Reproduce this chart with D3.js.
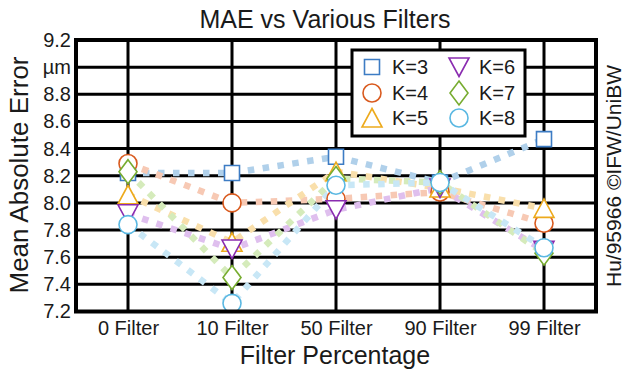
<!DOCTYPE html>
<html>
<head>
<meta charset="utf-8">
<script src="https://cdn.jsdelivr.net/npm/d3@7"></script>
<style>
  html, body { margin: 0; padding: 0; background: #fff; }
  svg { display: block; font-family: "Liberation Sans", Arial, sans-serif; }
</style>
</head>
<body>
<svg id="chart" width="625" height="372"></svg>
<script>
// Filter settings along the x axis
const categories = ["0 Filter", "10 Filter", "50 Filter", "90 Filter", "99 Filter"];

// Mean absolute error (µm) for each neighbourhood size K
const k3 = [8.22, 8.22, 8.34, 8.15, 8.47];
const k4 = [8.29, 8.00, 8.03, 8.08, 7.85];
const k5 = [8.06, 7.71, 8.23, 8.11, 7.96];
const k6 = [7.92, 7.66, 7.95, 8.11, 7.65];
const k7 = [8.23, 7.45, 8.18, 8.15, 7.63];
const k8 = [7.84, 7.26, 8.13, 8.15, 7.67];

const seriesNames = ["K=3", "K=4", "K=5", "K=6", "K=7", "K=8"];
const yTickValues = [7.2, 7.4, 7.6, 7.8, 8.0, 8.2, 8.4, 8.6, 8.8, 9.0, 9.2];
const yTickLabels = ["7.2", "7.4", "7.6", "7.8", "8.0", "8.2", "8.4", "8.6", "8.8", "µm", "9.2"];

const series = [
  { name: seriesNames[0], values: k3, shape: "square",  color: "#3d7cc4", light: "#b0d0ea" },
  { name: seriesNames[1], values: k4, shape: "circle",  color: "#d95a1e", light: "#f7c9b4" },
  { name: seriesNames[2], values: k5, shape: "tri",     color: "#edaa1c", light: "#f9dfab" },
  { name: seriesNames[3], values: k6, shape: "triDown", color: "#8a2cb0", light: "#dfbfee" },
  { name: seriesNames[4], values: k7, shape: "diamond", color: "#77ac30", light: "#d5ebbb" },
  { name: seriesNames[5], values: k8, shape: "circle",  color: "#5ab8e2", light: "#c8e7f6" }
];

const svg = d3.select("#chart");
const plot = { left: 76, right: 596, top: 40, bottom: 311.5 };
const ink = "#1a1a1a";

const x = d3.scalePoint().domain(categories).range([plot.left, plot.right]).padding(0.5);
const y = d3.scaleLinear().domain([7.2, 9.2]).range([plot.bottom, plot.top]);

// Marker path generators, centred on the origin
function markerPath(shape) {
  const p = d3.path();
  if (shape === "square") {
    const h = 7.5; p.rect(-h, -h, 2 * h, 2 * h);
  } else if (shape === "circle") {
    p.arc(0, 0, 9, 0, 2 * Math.PI);
  } else if (shape === "tri") {
    p.moveTo(0, -9.5); p.lineTo(10, 9); p.lineTo(-10, 9); p.closePath();
  } else if (shape === "triDown") {
    p.moveTo(0, 9.5); p.lineTo(10, -9); p.lineTo(-10, -9); p.closePath();
  } else if (shape === "diamond") {
    p.moveTo(0, -12); p.lineTo(9, 0); p.lineTo(0, 12); p.lineTo(-9, 0); p.closePath();
  }
  return p.toString();
}

// Grid lines
const grid = svg.append("g");
grid.selectAll("line.h").data(yTickValues).join("line")
  .attr("x1", plot.left).attr("x2", plot.right)
  .attr("y1", d => y(d)).attr("y2", d => y(d))
  .attr("stroke", "#000").attr("stroke-width", 3);
grid.selectAll("line.v").data(categories).join("line")
  .attr("x1", d => x(d)).attr("x2", d => x(d))
  .attr("y1", plot.top).attr("y2", plot.bottom)
  .attr("stroke", "#000").attr("stroke-width", 3);

// Y axis labels
const yAxis = d3.axisLeft(y).tickValues(yTickValues)
  .tickFormat((d, i) => yTickLabels[i]).tickSize(0).tickPadding(5);
svg.append("g").attr("transform", `translate(${plot.left},0)`).call(yAxis)
  .call(g => g.select(".domain").remove())
  .call(g => g.selectAll("text").attr("font-size", 20).attr("fill", ink)
    .attr("font-family", "Liberation Sans, Arial, sans-serif"));

// X axis labels
const xAxis = d3.axisBottom(x).tickSize(0).tickPadding(0);
svg.append("g").attr("transform", `translate(0,${plot.bottom})`).call(xAxis)
  .call(g => g.select(".domain").remove())
  .call(g => g.selectAll("text").attr("font-size", 20).attr("fill", ink)
    .attr("dy", null).attr("y", 23.5)
    .attr("font-family", "Liberation Sans, Arial, sans-serif"));

// Dotted series lines
const line = d3.line().x((d, i) => x(categories[i])).y(d => y(d));
const lines = svg.append("g");
series.forEach(s => {
  lines.append("path").attr("d", line(s.values))
    .attr("fill", "none").attr("stroke", s.light)
    .attr("stroke-width", 6.5).attr("stroke-dasharray", "6.5 8.5");
});

// Markers
const marks = svg.append("g");
series.forEach(s => {
  marks.selectAll(null).data(s.values).join("path")
    .attr("transform", (d, i) => `translate(${x(categories[i])},${y(d)})`)
    .attr("d", markerPath(s.shape))
    .attr("fill", "#fff").attr("stroke", s.color).attr("stroke-width", 1.6);
});

// Plot frame
svg.append("rect")
  .attr("x", plot.left).attr("y", plot.top)
  .attr("width", plot.right - plot.left).attr("height", plot.bottom - plot.top)
  .attr("fill", "none").attr("stroke", "#000").attr("stroke-width", 4);

// Legend
const legend = svg.append("g");
legend.append("rect").attr("x", 352).attr("y", 50).attr("width", 173).attr("height", 86)
  .attr("fill", "#fff").attr("stroke", "#000").attr("stroke-width", 3);
const legendPos = [[372, 67], [372, 93], [372, 118], [459, 67], [459, 93], [459, 118]];
series.forEach((s, i) => {
  const [lx, ly] = legendPos[i];
  legend.append("path").attr("transform", `translate(${lx},${ly})`)
    .attr("d", markerPath(s.shape))
    .attr("fill", "#fff").attr("stroke", s.color).attr("stroke-width", 1.6);
  legend.append("text").attr("x", lx + 20).attr("y", ly).attr("dy", "0.36em")
    .attr("font-size", 20).attr("fill", ink).text(s.name);
});

// Titles
svg.append("text").attr("x", 325).attr("y", 28).attr("text-anchor", "middle")
  .attr("font-size", 25).attr("fill", ink).text("MAE vs Various Filters");
svg.append("text").attr("x", 335).attr("y", 364).attr("text-anchor", "middle")
  .attr("font-size", 25).attr("fill", ink).text("Filter Percentage");
svg.append("text").attr("transform", "translate(28,175) rotate(-90)")
  .attr("text-anchor", "middle").attr("font-size", 26).attr("fill", ink)
  .text("Mean Absolute Error");
svg.append("text").attr("transform", "translate(621,176) rotate(-90)")
  .attr("text-anchor", "middle").attr("font-size", 21).attr("fill", ink)
  .text("Hu/95966 ©IFW/UniBW");
</script>
</body>
</html>
